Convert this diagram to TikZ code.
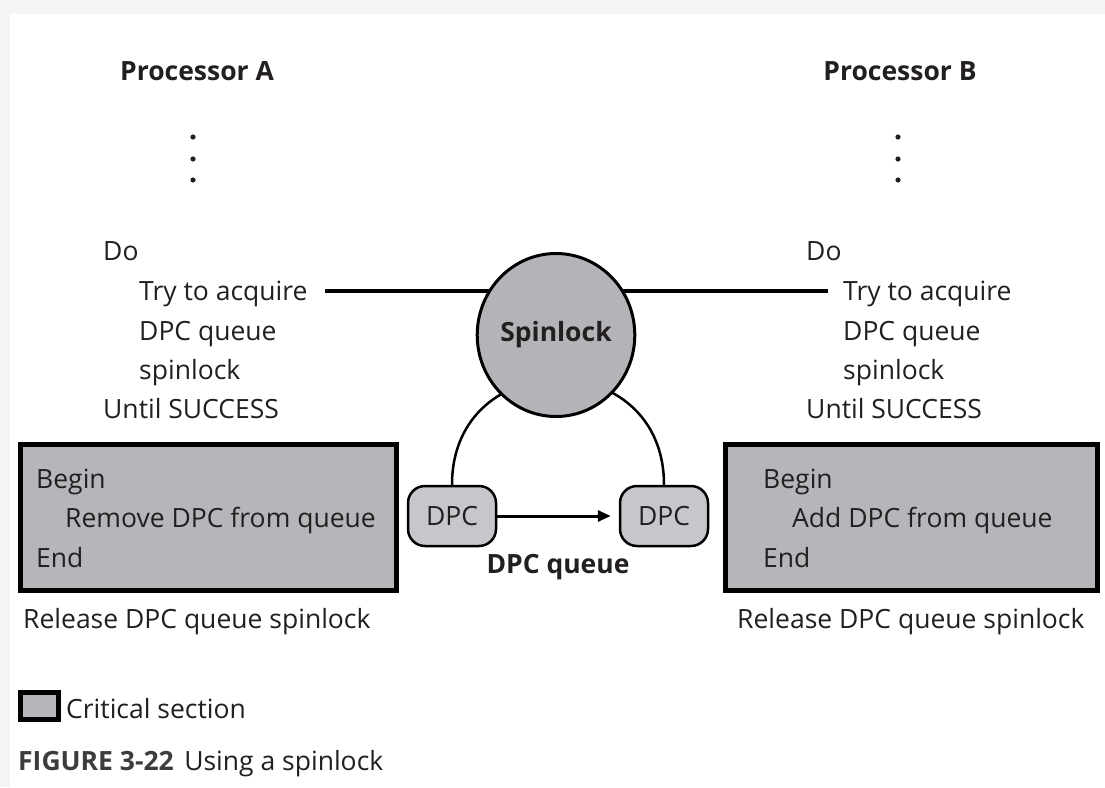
\documentclass[tikz,border=0pt]{standalone}
\usepackage{fontspec}
\setmainfont{Open Sans}
\usepackage{tikz}
\usetikzlibrary{shapes.geometric, positioning, arrows.meta}

\definecolor{ink}{RGB}{35,31,32}
\definecolor{critgray}{RGB}{181,182,186}
\definecolor{lockgray}{RGB}{180,180,184}
\definecolor{dpcgray}{RGB}{198,199,202}
\definecolor{bandgray}{RGB}{244,244,244}

\begin{document}
\begin{tikzpicture}[
    x=1pt, y=-1pt,
    font=\fontsize{26.5}{39}\selectfont,
    txt/.style={anchor=base west, inner sep=0pt, text=ink},
    head/.style={anchor=base, inner sep=0pt, text=ink, font=\fontsize{26.5}{39}\selectfont\bfseries},
    critbox/.style={draw=black, line width=5pt, fill=critgray, inner sep=0pt},
    dpcnode/.style={draw=black, line width=2.5pt, fill=dpcgray, rounded corners=17pt,
                    minimum width=88pt, minimum height=60pt, inner sep=0pt, text=ink},
    lockline/.style={draw=black, line width=4pt},
]
  \fill[white] (0,0) rectangle (1105,787);
  \useasboundingbox (0,0) rectangle (1105,787);
  \fill[bandgray] (0,0) rectangle (1105,14);
  \fill[bandgray] (0,0) rectangle (10,787);

  % processor headings
  \node[head] (procA) at (197,80) {Processor A};
  \node[head] (procB) at (900,80) {Processor B};
  \foreach \y in {137,159,180} {
    \fill[ink] (193,\y) circle (2.6pt);
    \fill[ink] (898,\y) circle (2.6pt);
  }

  % processor A loop
  \node[txt] (doA) at (103,260) {Do};
  \node[txt] (tryA) at (139,300) {Try to acquire};
  \node[txt] (queA) at (139,340) {DPC queue};
  \node[txt] (lkA) at (139,379) {spinlock};
  \node[txt] (untilA) at (103,418) {Until SUCCESS};

  % processor B loop
  \node[txt] (doB) at (806,260) {Do};
  \node[txt] (tryB) at (843,300) {Try to acquire};
  \node[txt] (queB) at (843,340) {DPC queue};
  \node[txt] (lkB) at (843,379) {spinlock};
  \node[txt] (untilB) at (806,418) {Until SUCCESS};

  % critical sections
  \node[critbox, minimum width=376pt, minimum height=146pt] (critA) at (208.5,517.5) {};
  \node[txt] (beginA) at (36,488) {Begin};
  \node[txt] (bodyA) at (65,527) {Remove DPC from queue};
  \node[txt] (endA) at (36,567) {End};
  \node[txt] (relA) at (23,628) {Release DPC queue spinlock};

  \node[critbox, minimum width=372pt, minimum height=146pt] (critB) at (911.5,517.5) {};
  \node[txt] (beginB) at (763,488) {Begin};
  \node[txt] (bodyB) at (792,527) {Add DPC from queue};
  \node[txt] (endB) at (763,567) {End};
  \node[txt] (relB) at (737,628) {Release DPC queue spinlock};

  % DPC queue
  \node[dpcnode] (dpcL) at (452,516) {DPC};
  \node[dpcnode] (dpcR) at (664,516) {DPC};
  \draw[line width=2.5pt] (dpcL.north) to[out=90, in=90, looseness=1.7] (dpcR.north);
  \draw[line width=3pt, -{Triangle[length=13pt, width=11pt]}, shorten >=8pt] (dpcL) -- (dpcR);
  \node[head] (queue) at (558,573) {DPC queue};

  % spinlock
  \node[ellipse, draw=black, line width=3pt, fill=lockgray, minimum width=144pt,
        minimum height=163pt, inner sep=0pt, text=ink,
        font=\fontsize{26.5}{39}\selectfont\bfseries] (spin) at (556,335) {Spinlock};
  \coordinate (acqA) at (325,291);
  \coordinate (acqB) at (828,291);
  \draw[lockline] (acqA) -- (acqA -| spin.144.6);
  \draw[lockline] (spin.35.4 |- acqB) -- (acqB);

  % legend and caption
  \node[critbox, minimum width=38pt, minimum height=27pt] (legbox) at (39.5,706) {};
  \node[txt] (legtext) at (66,718) {Critical section};
  \node[txt, text={rgb,255:red,60;green,60;blue,60}, font=\fontsize{26.5}{39}\selectfont\bfseries] (figno) at (18,770) {FIGURE 3-22};
  \node[txt, base right=10pt of figno] (figtitle) {Using a spinlock};
\end{tikzpicture}
\end{document}
